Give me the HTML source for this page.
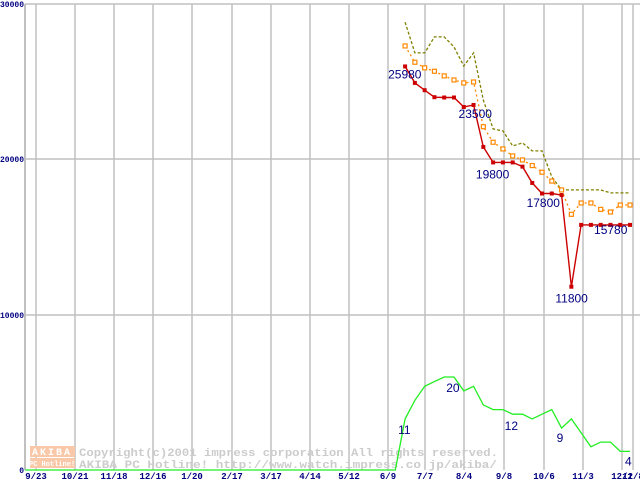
<!DOCTYPE html>
<html><head><meta charset="utf-8"><style>
html,body{margin:0;padding:0;background:#fff;}
svg{display:block;}
</style></head><body>
<svg id="chart" width="640" height="480" xmlns="http://www.w3.org/2000/svg" font-family="Liberation Mono, monospace">
<g id="grid"></g>
<g id="axes"></g>
<g id="watermark">
  <rect x="30" y="446" width="45" height="11" fill="#f8c8a8"/>
  <text x="52" y="455" font-size="10" font-weight="bold" fill="#fff" text-anchor="middle" letter-spacing="2">AKIBA</text>
  <rect x="30" y="458" width="45" height="10" fill="#f8c8a8"/>
  <text x="52" y="466" font-size="7" font-weight="bold" fill="#fff" text-anchor="middle">PC Hotline!</text>
  <text x="79" y="456" font-size="11" font-weight="bold" fill="#cccccc" textLength="419" lengthAdjust="spacingAndGlyphs">Copyright(c)2001 impress corporation All rights reserved.</text>
  <text x="79" y="468" font-size="11" font-weight="bold" fill="#cccccc" textLength="418" lengthAdjust="spacingAndGlyphs">AKIBA PC Hotline!  http://www.watch.impress.co.jp/akiba/</text>
</g>
<g id="series"></g>
<g id="labels"></g>
</svg>
<script>
const xTickLabels = ["9/23","10/21","11/18","12/16","1/20","2/17","3/17","4/14","5/12","6/9","7/7","8/4","9/8","10/6","11/3","12/1","12/8"];
const xTickDays = [0,28,56,84,112,140,168,196,224,252,278,306,335,363,391,419,427];
const yTicks = [0,10000,20000,30000];
const lowPrice = [25980,24920,24450,24000,23980,23980,23370,23500,20800,19800,19800,19800,19530,18480,17800,17800,17700,11800,15780,15780,15780,15780,15780,15780];
const avgPrice = [27300,26250,25890,25670,25370,25110,24920,24980,22100,21100,20670,20220,19960,19600,19170,18600,18030,16460,17190,17190,16780,16610,17060,17060];
const highPrice = [28830,26850,26850,27880,27880,27240,26010,26850,23820,21960,21830,20860,21060,20540,20540,18870,18030,18030,18030,18030,18030,17840,17840,17840];
const shopCount = [11,15,18,19,20,20,17,18,14,13,13,12,12,11,12,13,9,11,8,5,6,6,4,4];
const priceLabels = [{i:0,t:"25980",dx:-17,dy:12},{i:7,t:"23500",dx:-15,dy:13},{i:10,t:"19800",dx:-27,dy:16},{i:16,t:"17800",dx:-35,dy:12},{i:17,t:"11800",dx:-16,dy:16},{i:23,t:"15780",dx:-36,dy:9}];
const countLabels = [{i:0,t:"11",dx:-7,dy:15},{i:4,t:"20",dx:2,dy:15},{i:11,t:"12",dx:-8,dy:16},{i:16,t:"9",dx:-5,dy:14},{i:23,t:"4",dx:-5,dy:14}];

const NS="http://www.w3.org/2000/svg";
const L=25,T=4,B=470,R=640;
const seriesStartDay=264;
function xDay(d){return 35.5 + d*1.4;}
function xi(i){return xDay(seriesStartDay)+ i*9.78;}
function yP(v){return B-(B-T)*v/30000;}
function yC(c){return B-c*4.65;}
function mk(tag,attrs,parent){const e=document.createElementNS(NS,tag);for(const k in attrs)e.setAttribute(k,attrs[k]);parent.appendChild(e);return e;}
const grid=document.getElementById('grid'),axes=document.getElementById('axes'),ser=document.getElementById('series'),lab=document.getElementById('labels');

mk('line',{x1:L,y1:T,x2:L,y2:B,stroke:'#c0c0c0','stroke-width':2},grid);
xTickDays.forEach((d,k)=>{
  const x=Math.round(xDay(d));
  const ln=mk('line',{x1:x,y1:T,x2:x,y2:B,stroke:'#c0c0c0','stroke-width':1.5},grid);
  
  
  const t=mk('text',{x:x,y:479,'font-size':9,'font-weight':'bold',fill:'#000080','text-anchor':'middle'},axes);
  t.textContent=xTickLabels[k];
  
  
});
yTicks.forEach(v=>{
  const y=Math.round(yP(v));
  if(v>0){const ln=mk('line',{x1:L,y1:y,x2:R,y2:y,stroke:'#c0c0c0','stroke-width':1.5},grid);
  
  }
  const s=String(v);
  const t=mk('text',{x:24,y:y+3,'font-size':8,'font-weight':'bold',fill:'#000080','text-anchor':'end',textLength:s.length*4.8,lengthAdjust:'spacingAndGlyphs'},axes);
  t.textContent=s;
  
  
});

function pts(arr,fy){return arr.map((v,i)=>xi(i).toFixed(1)+','+fy(v).toFixed(1)).join(' ');}
const gp=L+','+B+' '+(xi(-1)).toFixed(1)+','+B+' '+pts(shopCount,yC);
const g=mk('polyline',{points:gp,fill:'none',stroke:'#22ee22','stroke-width':1.3},ser);


const h=mk('polyline',{points:pts(highPrice,yP),fill:'none',stroke:'#808000','stroke-width':1.3,'stroke-dasharray':'3,2'},ser);


const a=mk('polyline',{points:pts(avgPrice,yP),fill:'none',stroke:'#ff8800','stroke-width':1.3,'stroke-dasharray':'2,3'},ser);


avgPrice.forEach((v,i)=>{
  const r=mk('rect',{x:xi(i)-2,y:yP(v)-2,width:4,height:4,fill:'#fff',stroke:'#ff8800','stroke-width':1.2},ser);
  
  
});
const lw=mk('polyline',{points:pts(lowPrice,yP),fill:'none',stroke:'#cc0000','stroke-width':1.4},ser);


lowPrice.forEach((v,i)=>{
  const r=mk('rect',{x:xi(i)-2,y:yP(v)-2,width:4,height:4,fill:'#cc0000'},ser);
  
  
});
priceLabels.forEach(p=>{
  const t=mk('text',{x:xi(p.i)+p.dx,y:yP(lowPrice[p.i])+p.dy,'font-size':12,fill:'#000080','font-family':'Liberation Sans, sans-serif'},lab);
  t.textContent=p.t;
  
  
});
countLabels.forEach(p=>{
  const t=mk('text',{x:xi(p.i)+p.dx,y:yC(shopCount[p.i])+p.dy,'font-size':12,fill:'#000080','font-family':'Liberation Sans, sans-serif'},lab);
  t.textContent=p.t;
  
  
});
</script>
</body></html>
